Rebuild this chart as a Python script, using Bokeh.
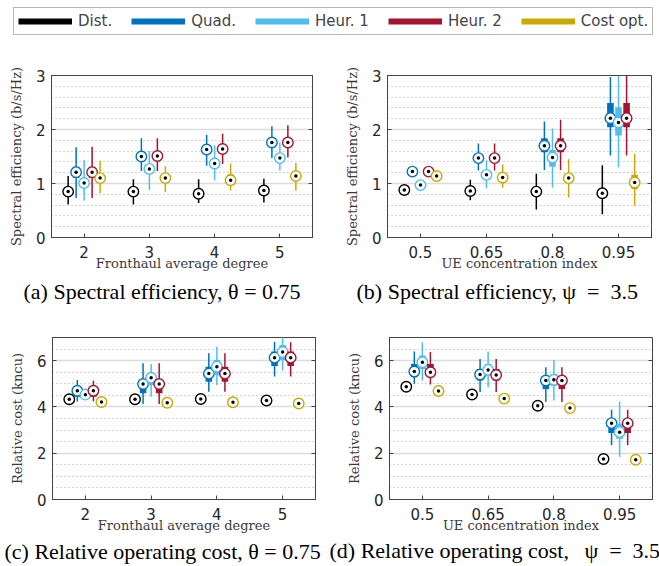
from bokeh.plotting import figure
from bokeh.models import (Range1d, SingleIntervalTicker, ColumnDataSource, Title, Legend,
                          LegendItem, LinearAxis)
from bokeh.transform import dodge
from bokeh.layouts import column, row
from bokeh.embed import file_html
from bokeh.resources import INLINE

# Schemes compared in every panel
SERIES = ["Dist.", "Quad.", "Heur. 1", "Heur. 2", "Cost opt."]
COLORS = ["#000000", "#0072BD", "#4DBEEE", "#A2142F", "#C9A900"]

# x categories
DEGREES = ["2", "3", "4", "5"]
UE_CONC = ["0.5", "0.65", "0.8", "0.95"]

# ---- (a) spectral efficiency vs fronthaul degree (rows follow SERIES) ----
SE_DEG_MED = [[0.85, 0.85, 0.81, 0.87], [1.21, 1.50, 1.63, 1.76], [1.01, 1.27, 1.37, 1.47],
              [1.21, 1.51, 1.64, 1.76], [1.10, 1.10, 1.06, 1.14]]
SE_DEG_Q1 = [[0.80, 0.80, 0.77, 0.83], [1.10, 1.42, 1.56, 1.68], [0.95, 1.20, 1.30, 1.41],
             [1.10, 1.43, 1.57, 1.69], [1.04, 1.05, 0.99, 1.08]]
SE_DEG_Q3 = [[0.90, 0.90, 0.86, 0.92], [1.31, 1.59, 1.70, 1.83], [1.08, 1.34, 1.44, 1.53],
             [1.31, 1.59, 1.71, 1.83], [1.15, 1.15, 1.17, 1.20]]
SE_DEG_LO = [[0.61, 0.61, 0.64, 0.65], [0.73, 1.23, 1.33, 1.47], [0.68, 0.88, 1.06, 1.24],
             [0.73, 1.23, 1.36, 1.48], [0.82, 0.84, 0.87, 0.87]]
SE_DEG_HI = [[1.14, 1.08, 1.08, 1.09], [1.67, 1.84, 1.90, 2.06], [1.44, 1.60, 1.71, 1.76],
             [1.68, 1.84, 1.92, 2.08], [1.42, 1.32, 1.37, 1.38]]

# ---- (b) spectral efficiency vs UE concentration ----
SE_UE_MED = [[0.88, 0.86, 0.85, 0.82], [1.22, 1.47, 1.70, 2.21], [0.97, 1.16, 1.48, 2.13],
             [1.22, 1.47, 1.70, 2.21], [1.14, 1.11, 1.10, 1.02]]
SE_UE_Q1 = [[0.86, 0.82, 0.79, 0.74], [1.19, 1.41, 1.58, 2.04], [0.95, 1.10, 1.31, 1.89],
            [1.19, 1.41, 1.58, 2.04], [1.12, 1.07, 1.03, 0.90]]
SE_UE_Q3 = [[0.90, 0.90, 0.91, 0.90], [1.25, 1.52, 1.84, 2.49], [0.99, 1.22, 1.62, 2.41],
            [1.25, 1.52, 1.84, 2.49], [1.16, 1.16, 1.17, 1.16]]
SE_UE_LO = [[0.84, 0.69, 0.52, 0.43], [1.12, 1.24, 1.25, 1.52], [0.92, 0.91, 0.92, 1.30],
            [1.12, 1.24, 1.25, 1.52], [1.10, 0.92, 0.74, 0.59]]
SE_UE_HI = [[0.92, 1.07, 1.18, 1.34], [1.30, 1.74, 2.15, 2.97], [1.02, 1.43, 2.02, 3.00],
            [1.30, 1.74, 2.18, 3.00], [1.18, 1.35, 1.45, 1.55]]

# ---- (c) relative cost vs fronthaul degree ----
COST_DEG_MED = [[4.33, 4.33, 4.34, 4.28], [4.70, 4.99, 5.44, 6.13], [4.53, 5.26, 5.74, 6.37],
                [4.70, 4.99, 5.44, 6.13], [4.21, 4.18, 4.20, 4.15]]
COST_DEG_Q1 = [[4.30, 4.30, 4.31, 4.25], [4.44, 4.59, 5.09, 5.77], [4.45, 4.95, 5.38, 6.03],
               [4.44, 4.59, 5.09, 5.77], [4.19, 4.16, 4.18, 4.13]]
COST_DEG_Q3 = [[4.36, 4.36, 4.37, 4.31], [4.88, 5.16, 5.74, 6.39], [4.62, 5.45, 6.03, 6.68],
               [4.88, 5.16, 5.74, 6.39], [4.23, 4.20, 4.22, 4.17]]
COST_DEG_LO = [[4.25, 4.25, 4.26, 4.20], [4.23, 4.13, 4.66, 5.31], [4.30, 4.44, 4.95, 5.57],
               [4.25, 4.13, 4.66, 5.31], [4.15, 4.12, 4.14, 4.09]]
COST_DEG_HI = [[4.40, 4.40, 4.42, 4.36], [5.16, 5.89, 6.32, 6.82], [4.80, 5.86, 6.60, 7.10],
               [5.13, 5.89, 6.32, 6.80], [4.27, 4.24, 4.26, 4.21]]

# ---- (d) relative cost vs UE concentration ----
COST_UE_MED = [[4.87, 4.54, 4.05, 1.75], [5.53, 5.40, 5.14, 3.30], [5.93, 5.60, 5.17, 2.91],
               [5.50, 5.38, 5.14, 3.30], [4.69, 4.36, 3.95, 1.72]]
COST_UE_Q1 = [[4.84, 4.51, 4.02, 1.73], [5.28, 5.14, 4.78, 2.87], [5.64, 5.35, 4.92, 2.63],
              [5.28, 5.14, 4.78, 2.87], [4.66, 4.33, 3.92, 1.70]]
COST_UE_Q3 = [[4.90, 4.57, 4.08, 1.77], [5.86, 5.64, 5.28, 3.44], [6.22, 5.86, 5.42, 3.27],
              [5.86, 5.64, 5.28, 3.44], [4.72, 4.39, 3.98, 1.74]]
COST_UE_LO = [[4.80, 4.47, 3.98, 1.70], [5.00, 4.64, 4.21, 2.34], [5.14, 4.85, 4.28, 1.84],
              [4.97, 4.64, 4.21, 2.34], [4.63, 4.30, 3.89, 1.67]]
COST_UE_HI = [[4.93, 4.60, 4.11, 1.80], [6.40, 6.07, 5.71, 3.88], [6.79, 6.40, 6.03, 4.23],
              [6.37, 6.07, 5.71, 3.88], [4.75, 4.42, 4.01, 1.77]]

# horizontal shift of each scheme inside a category group
OFFSETS = [-0.245, -0.1225, 0.0, 0.1225, 0.245]

AXIS_COLOR = "#444444"
NAN = float("nan")


def make_panel(cats, med, q1, q3, lo, hi, y_max, step, n_minor, ylabel, xlabel, caption,
               frame_w, borders, cap_offset, cap_standoff):
    left, right, top, bottom = borders
    p = figure(x_range=cats, y_range=Range1d(0, y_max), frame_width=frame_w, frame_height=162,
               min_border_left=left, min_border_right=right, min_border_top=top,
               min_border_bottom=bottom, output_backend="svg", toolbar_location=None)
    p.background_fill_color = "white"
    p.border_fill_color = "white"
    p.outline_line_color = AXIS_COLOR
    p.outline_line_width = 1

    for k, (name, color) in enumerate(zip(SERIES, COLORS)):
        src = ColumnDataSource(dict(x=cats, med=med[k], q1=q1[k], q3=q3[k], lo=lo[k], hi=hi[k]))
        xd = dodge("x", OFFSETS[k], range=p.x_range)
        p.segment(x0=xd, y0="lo", x1=xd, y1="hi", source=src, line_color=color, line_width=1.5)
        p.vbar(x=xd, width=0.1, bottom="q1", top="q3", source=src,
               fill_color=color, line_color=None)
        p.scatter(x=xd, y="med", source=src, marker="circle", size=10.5,
                  fill_color="white", line_color=color, line_width=1.4)
        p.scatter(x=xd, y="med", source=src, marker="circle", size=3.5,
                  fill_color="black", line_color=None)

    ticker = SingleIntervalTicker(interval=step, num_minor_ticks=n_minor)
    p.yaxis.ticker = ticker
    p.xaxis.axis_label = xlabel
    p.yaxis.axis_label = ylabel
    for ax in (p.xaxis[0], p.yaxis[0]):
        ax.axis_label_text_font = "DejaVu Serif"
        ax.axis_label_text_font_size = "13px"
        ax.axis_label_text_font_style = "normal"
        ax.axis_label_text_color = "#3a3a3a"
        ax.major_label_text_font = "DejaVu Sans"
        ax.major_label_text_font_size = "15px"
        ax.major_label_text_color = "#262626"
        ax.major_tick_in = 4
        ax.major_tick_out = 0
        ax.minor_tick_in = 0
        ax.minor_tick_out = 0
        ax.axis_line_color = AXIS_COLOR
        ax.major_tick_line_color = AXIS_COLOR
    p.xaxis.major_label_standoff = 8
    p.xaxis.axis_label_standoff = -5
    p.yaxis.major_label_standoff = 6
    p.yaxis.axis_label_standoff = 9

    # mirrored tick marks on the right edge of the box
    mirror = LinearAxis(ticker=ticker, major_tick_in=4, major_tick_out=0, minor_tick_in=0,
                        minor_tick_out=0, major_label_text_font_size="1px",
                        major_label_text_alpha=0, major_label_standoff=0,
                        axis_line_color=AXIS_COLOR, major_tick_line_color=AXIS_COLOR)
    p.add_layout(mirror, "right")

    p.xgrid.grid_line_color = None
    p.ygrid.grid_line_color = "#dcdcdc"
    p.ygrid.grid_line_width = 1.5
    p.ygrid.minor_grid_line_color = "#aaaaaa"
    p.ygrid.minor_grid_line_dash = "1 3"
    p.ygrid.minor_grid_line_width = 1

    cap = Title(text=caption, text_font="Liberation Serif", text_font_size="22px",
                text_font_style="normal", text_color="black", align="left",
                offset=cap_offset, standoff=cap_standoff)
    p.add_layout(cap, "below")
    return p


pa = make_panel(DEGREES, SE_DEG_MED, SE_DEG_Q1, SE_DEG_Q3, SE_DEG_LO, SE_DEG_HI, 3, 1, 5,
                "Spectral efficiency (b/s/Hz)", "Fronthaul average degree",
                "(a) Spectral efficiency,  \u03b8 = 0.75", 261, (51, 18, 27, 76), -28, 6)
pb = make_panel(UE_CONC, SE_UE_MED, SE_UE_Q1, SE_UE_Q3, SE_UE_LO, SE_UE_HI, 3, 1, 5,
                "Spectral efficiency (b/s/Hz)", "UE concentration index",
                "(b) Spectral efficiency,  \u03c8\u2002=\u20023.5", 264, (57, 8, 30, 73), -31, 6)
pc = make_panel(DEGREES, COST_DEG_MED, COST_DEG_Q1, COST_DEG_Q3, COST_DEG_LO, COST_DEG_HI, 7, 2, 4,
                "Relative cost (kncu)", "Fronthaul average degree",
                "(c) Relative operating cost,  \u03b8 = 0.75", 263, (52, 15, 24, 70), -48, 3)
pd = make_panel(UE_CONC, COST_UE_MED, COST_UE_Q1, COST_UE_Q3, COST_UE_LO, COST_UE_HI, 7, 2, 4,
                "Relative cost (kncu)", "UE concentration index",
                "(d) Relative operating cost,\u2002\u2009\u03c8\u2002=\u20023.5", 263,
                (59, 7, 27, 67), -60, 0)

# legend strip across the top; its line renderers hold no visible points
lg = figure(width=659, height=45, x_range=Range1d(0, 1), y_range=Range1d(0, 1), min_border=0,
            output_backend="svg", toolbar_location=None)
lg.axis.visible = False
lg.grid.visible = False
lg.outline_line_color = None
items = []
for name, color in zip(SERIES, COLORS):
    r = lg.line(x=[NAN, NAN], y=[NAN, NAN], line_color=color, line_width=6)
    items.append(LegendItem(label=name, renderers=[r]))
legend = Legend(items=items, orientation="horizontal", location=(13, 10), margin=0,
                padding=4, spacing=19, label_standoff=6, glyph_width=54, glyph_height=16,
                label_height=16, label_text_font="DejaVu Sans", label_text_font_size="15px",
                border_line_color="#6e6e6e", border_line_width=1, background_fill_alpha=1)
lg.add_layout(legend, "center")

layout = column(lg, row(pa, pb), row(pc, pd))
open("out.html", "w").write(file_html(layout, INLINE))
